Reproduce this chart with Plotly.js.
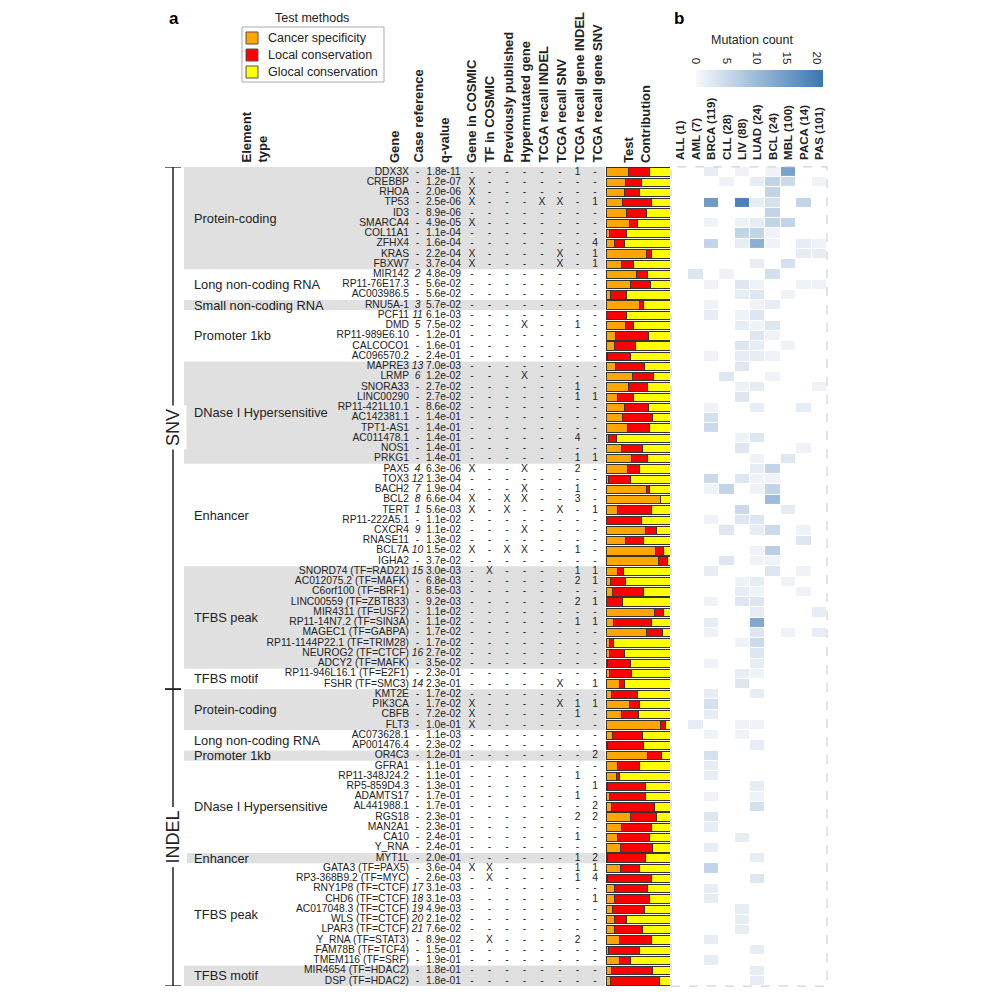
<!DOCTYPE html>
<html><head><meta charset="utf-8">
<script src="https://cdn.plot.ly/plotly-3.0.1.min.js"></script>
<style>body{margin:0;background:#fff}#chart{width:1000px;height:1000px}</style>
</head><body><div id="chart"></div>
<script>
// ---------------- DATA ----------------
const methods = ['Cancer specificity', 'Local conservation', 'Glocal conservation'];
const cancerTypes = ['ALL (1)','AML (7)','BRCA (119)','CLL (28)','LIV (88)','LUAD (24)','BCL (24)','MBL (100)','PACA (14)','PAS (101)'];
const mutationClasses = ['SNV', 'INDEL'];
const mutationClassSizes = [51, 29];
const groupNames = ['Protein-coding','Long non-coding RNA','Small non-coding RNA','Promoter 1kb','DNase I Hypersensitive','Enhancer','TFBS peak','TFBS motif',
                    'Protein-coding','Long non-coding RNA','Promoter 1kb','DNase I Hypersensitive','Enhancer','TFBS peak','TFBS motif'];
const groupSizes = [10,3,1,5,10,10,10,2, 4,2,1,9,1,10,2];
const columnHeaders = ['Gene in COSMIC','TF in COSMIC','Previously published','Hypermutated gene','TCGA recall INDEL','TCGA recall SNV','TCGA recall gene INDEL','TCGA recall gene SNV'];
const colorbarTicks = [0, 5, 10, 15, 20];

const genes = [
 'DDX3X','CREBBP','RHOA','TP53','ID3','SMARCA4','COL11A1','ZFHX4','KRAS','FBXW7',
 'MIR142','RP11-76E17.3','AC003986.5','RNU5A-1','PCF11','DMD','RP11-989E6.10','CALCOCO1','AC096570.2','MAPRE3',
 'LRMP','SNORA33','LINC00290','RP11-421L10.1','AC142381.1','TPT1-AS1','AC011478.1','NOS1','PRKG1','PAX5',
 'TOX3','BACH2','BCL2','TERT','RP11-222A5.1','CXCR4','RNASE11','BCL7A','IGHA2','SNORD74 (TF=RAD21)',
 'AC012075.2 (TF=MAFK)','C6orf100 (TF=BRF1)','LINC00559 (TF=ZBTB33)','MIR4311 (TF=USF2)','RP11-14N7.2 (TF=SIN3A)','MAGEC1 (TF=GABPA)','RP11-1144P22.1 (TF=TRIM28)','NEUROG2 (TF=CTCF)','ADCY2 (TF=MAFK)','RP11-946L16.1 (TF=E2F1)',
 'FSHR (TF=SMC3)','KMT2E','PIK3CA','CBFB','FLT3','AC073628.1','AP001476.4','OR4C3','GFRA1','RP11-348J24.2',
 'RP5-859D4.3','ADAMTS17','AL441988.1','RGS18','MAN2A1','CA10','Y_RNA','MYT1L','GATA3 (TF=PAX5)','RP3-368B9.2 (TF=MYC)',
 'RNY1P8 (TF=CTCF)','CHD6 (TF=CTCF)','AC017048.3 (TF=CTCF)','WLS (TF=CTCF)','LPAR3 (TF=CTCF)','Y_RNA (TF=STAT3)','FAM78B (TF=TCF4)','TMEM116 (TF=SRF)','MIR4654 (TF=HDAC2)','DSP (TF=HDAC2)'
];
const caseRef = [
 '-','-','-','-','-','-','-','-','-','-',
 '2','-','-','3','11','5','-','-','-','13',
 '6','-','-','-','-','-','-','-','-','4',
 '12','7','8','1','-','9','-','10','-','15',
 '-','-','-','-','-','-','-','16','-','-',
 '14','-','-','-','-','-','-','-','-','-',
 '-','-','-','-','-','-','-','-','-','-',
 '17','18','19','20','21','-','-','-','-','-'
];
const qValues = [
 '1.8e-11','1.2e-07','2.0e-06','2.5e-06','8.9e-06','4.9e-05','1.1e-04','1.6e-04','2.2e-04','3.7e-04',
 '4.8e-09','5.6e-02','5.6e-02','5.7e-02','6.1e-03','7.5e-02','1.2e-01','1.6e-01','2.4e-01','7.0e-03',
 '1.2e-02','2.7e-02','2.7e-02','8.6e-02','1.4e-01','1.4e-01','1.4e-01','1.4e-01','1.4e-01','6.3e-06',
 '1.3e-04','1.9e-04','6.6e-04','5.6e-03','1.1e-02','1.1e-02','1.3e-02','1.5e-02','3.7e-02','3.0e-03',
 '6.8e-03','8.5e-03','9.2e-03','1.1e-02','1.1e-02','1.7e-02','1.7e-02','2.7e-02','3.5e-02','2.3e-01',
 '2.3e-01','1.7e-02','1.7e-02','7.2e-02','1.0e-01','1.1e-03','2.3e-02','1.2e-01','1.1e-01','1.1e-01',
 '1.3e-01','1.7e-01','1.7e-01','2.3e-01','2.3e-01','2.4e-01','2.4e-01','2.0e-01','3.6e-04','2.6e-03',
 '3.1e-03','3.1e-03','4.9e-03','2.1e-02','7.6e-02','8.9e-02','1.5e-01','1.9e-01','1.8e-01','1.8e-01'
];
// flag columns, 10 rows per block
const geneInCosmic    = ('-XXX-X--XX'+'----------'+'---------X'+'--XX---X--'+'----------'+'--XXX-----'+'--------X-'+'----------').split('');
const tfInCosmic      = ('----------'+'----------'+'----------'+'---------X'+'----------'+'----------'+'--------XX'+'-----X----').split('');
const prevPublished   = ('----------'+'----------'+'----------'+'--XX---X--'+'----------'+'----------'+'----------'+'----------').split('');
const hypermutated    = ('----------'+'-----X----'+'X--------X'+'-XX--X-X--'+'----------'+'----------'+'----------'+'----------').split('');
const recallIndel     = ('---X------'+'----------'+'----------'+'----------'+'----------'+'----------'+'----------'+'----------').split('');
const recallSnv       = ('---X----XX'+'----------'+'----------'+'---X------'+'----------'+'X-X-------'+'----------'+'----------').split('');
const recallGeneIndel = ('1---------'+'-----1----'+'-11---4-12'+'-13----1-1'+'2-2-1-----'+'--11-----1'+'-1-2-1-111'+'-----2----').split('');
const recallGeneSnv   = ('---1---411'+'----------'+'--1-----1-'+'---1-----1'+'1-1-1-----'+'1-1----2--'+'1-22---214'+'-1--------').split('');

const cancerSpecificity = [
 .35,.31,.29,.255,.32,.365,.05,.14,.635,.235,
 .47,.385,.07,.53,.005,.31,.145,.13,.03,.145,
 .415,.355,.175,.29,.25,.335,.04,.24,.40,.34,
 .035,.635,.845,.175,.015,.615,.30,.77,.82,.175,
 .07,.10,.01,.75,.115,.635,.05,.06,.02,.05,
 .205,.09,.365,.235,.845,.095,.03,.645,.18,.165,
 .02,.05,.09,.39,.235,.18,.23,.02,.23,.025,
 .13,.13,.10,.13,.14,.205,.04,.205,.09,.07
];
const localConservation = [
 .33,.245,.24,.46,.31,.13,.27,.155,.08,.19,
 .18,.31,.25,.05,.31,.115,.515,.335,.355,.45,
 .325,.295,.25,.37,.475,.345,.125,.335,.245,.19,
 .35,.05,.01,.535,.54,.175,.28,.125,.135,.105,
 .235,.485,.245,.155,.59,.245,.065,.225,.365,.35,
 .08,.405,.165,.27,.09,.475,.555,.215,.34,.05,
 .60,.56,.675,.40,.47,.505,.495,.60,.29,.69,
 .52,.545,.50,.19,.43,.50,.48,.185,.64,.77
];
const glocalConservation = [
 .32,.445,.47,.285,.37,.505,.68,.705,.285,.575,
 .35,.305,.68,.42,.685,.575,.34,.535,.615,.405,
 .26,.35,.575,.34,.275,.32,.835,.425,.355,.47,
 .615,.315,.145,.29,.445,.21,.42,.105,.045,.72,
 .695,.415,.745,.095,.295,.12,.885,.715,.615,.60,
 .715,.505,.47,.495,.065,.43,.415,.14,.48,.785,
 .38,.39,.235,.21,.295,.315,.275,.38,.48,.285,
 .35,.325,.40,.68,.43,.295,.48,.61,.27,.16
];
// columns: ALL, AML, BRCA, CLL, LIV, LUAD, BCL, MBL, PACA, PAS
const mutationCounts = [
 [0,0,2,0,1,0,1,14,0,0],[0,0,0,1,0,2,6,5,0,1],[0,0,0,0,0,0,6,0,0,0],[0,0,15,0,19,2,4,0,6,0],[0,0,0,0,0,0,6,0,0,0],
 [0,0,1,0,1,2,6,6,0,0],[0,0,0,0,6,6,1,0,0,0],[0,0,6,0,2,12,1,0,2,1],[0,0,0,0,0,0,0,0,2,2],[0,0,0,0,0,2,0,4,0,0],
 [0,3,0,1,0,0,4,0,0,0],[0,0,1,0,3,1,0,0,1,1],[0,0,0,0,2,3,0,1,0,0],[0,0,1,0,0,1,2,0,0,0],[0,0,2,0,1,3,0,0,0,0],
 [0,0,0,0,2,1,3,0,0,0],[0,0,0,0,0,3,1,0,0,0],[0,0,0,0,3,2,0,1,0,0],[0,0,1,0,2,2,1,0,0,0],[0,0,0,0,3,0,0,0,0,0],
 [0,0,0,3,0,0,1,0,0,0],[0,0,0,0,1,2,0,0,0,1],[0,0,0,0,3,0,0,0,0,0],[0,0,1,0,0,2,0,0,2,0],[0,0,4,0,0,0,0,0,0,0],
 [0,0,5,0,0,0,0,0,0,0],[0,0,0,0,1,3,0,0,0,0],[0,0,0,0,3,0,0,0,1,0],[0,0,0,0,0,1,0,3,0,0],[0,0,0,0,0,2,6,0,0,0],
 [0,0,5,0,3,1,1,0,0,0],[0,0,1,6,0,1,6,0,0,0],[0,0,0,0,0,0,10,0,0,0],[0,0,0,0,5,0,0,2,0,0],[0,0,1,0,3,3,0,0,0,0],
 [0,0,0,3,0,2,5,0,1,0],[0,0,0,0,0,0,0,0,3,0],[0,0,0,0,0,1,7,0,0,0],[0,0,0,3,0,1,1,0,0,0],[0,0,2,0,0,0,3,0,1,0],
 [0,0,0,0,1,2,0,1,0,0],[0,0,0,0,2,1,0,0,1,0],[0,0,1,0,3,3,0,0,0,0],[0,0,0,0,0,2,0,0,0,2],[0,0,2,0,0,13,0,0,0,0],
 [0,0,1,0,0,3,0,1,0,2],[0,0,0,0,1,5,0,0,0,0],[0,0,0,0,0,3,0,0,0,0],[0,0,1,0,0,2,0,0,0,0],[0,0,0,0,2,1,0,0,0,0],
 [0,0,0,0,3,0,0,0,0,0],[0,0,2,0,0,2,0,0,0,0],[0,0,4,0,0,0,0,0,0,0],[0,0,2,0,0,0,0,0,0,0],[0,2,0,0,1,1,0,0,0,0],
 [0,0,1,0,1,0,0,0,0,0],[0,0,0,0,0,2,0,0,0,0],[0,0,4,0,0,0,0,0,0,0],[0,0,2,0,0,0,0,0,0,0],[0,0,2,0,0,0,0,0,0,0],
 [0,0,0,0,0,2,0,0,0,0],[0,0,1,0,0,1,0,0,0,0],[0,0,0,0,0,4,0,0,0,0],[0,0,3,0,0,0,0,0,0,0],[0,0,2,0,0,0,0,0,0,0],
 [0,0,0,0,2,0,0,0,0,0],[0,0,2,0,0,0,0,0,0,0],[0,0,0,0,0,2,0,0,0,0],[0,0,6,0,0,0,0,0,0,0],[0,0,0,0,0,3,0,0,0,0],
 [0,0,2,0,0,0,0,0,0,0],[0,0,2,0,0,0,0,0,0,0],[0,0,0,0,2,0,0,0,0,0],[0,0,0,0,2,0,0,0,0,0],[0,0,0,0,2,0,0,0,0,0],
 [0,0,2,0,0,0,0,0,0,0],[0,0,0,0,0,2,0,0,0,0],[0,0,2,0,0,0,0,0,0,0],[0,0,0,0,0,2,0,0,0,0],[0,0,0,0,0,2,0,0,0,0]
];

// ---------------- STYLE / LAYOUT ----------------
const FONT = 'Liberation Sans, Arial, sans-serif';
const TXT = '#222';
const methodColors = ['#FFA500', '#FF0000', '#FFFF00'];
const px = v => v / 1000;          // horizontal pixel -> paper
const py = v => 1 - v / 1000;      // vertical pixel -> paper
const rowTopPx = 166.9, rowBotPx = 986.1;
const nRows = genes.length;
const rowIdx = genes.map((g, i) => i);

const flagCols = [geneInCosmic, tfInCosmic, prevPublished, hypermutated, recallIndel, recallSnv, recallGeneIndel, recallGeneSnv];
const flagX = [472, 489.5, 507, 524.5, 542, 560, 577.5, 595];
const headerX = [471, 489, 508, 525, 543, 561.5, 579, 597];

function textTrace(xpos, texts, pos, size) {
  return {type:'scatter', mode:'text', xaxis:'x2', yaxis:'y', x: texts.map(() => xpos), y: rowIdx,
          text: texts, textposition: pos, cliponaxis:false, hoverinfo:'skip', showlegend:false,
          textfont:{family:FONT, size:size || 10.3, color:TXT}};
}

const traces = [];
// stacked bars
[cancerSpecificity, localConservation, glocalConservation].forEach((vals, k) => {
  traces.push({type:'bar', orientation:'h', x: vals, y: rowIdx, name: methods[k], xaxis:'x', yaxis:'y',
               marker:{color: methodColors[k], line:{color:'#333', width:1}}, hoverinfo:'skip', showlegend:false});
});
// table text
traces.push(textTrace(409, genes, 'middle left'));
traces.push(textTrace(417.5, caseRef.map(v => v === '-' ? '-' : '<i>' + v + '</i>'), 'middle center'));
traces.push(textTrace(443.5, qValues, 'middle center'));
flagCols.forEach((col, k) => traces.push(textTrace(flagX[k], col, 'middle center')));
// heatmap
traces.push({type:'heatmap', xaxis:'x3', yaxis:'y', x: cancerTypes, y: rowIdx,
  z: mutationCounts.map(r => r.map(v => v === 0 ? null : v)),
  zmin:0, zmax:21, xgap:1, ygap:1, hoverongaps:false,
  colorscale:[[0,'#f8f9fc'],[1,'#3a76b2']],
  colorbar:{orientation:'h', x:px(696), xanchor:'left', y:py(87), yanchor:'bottom', len:127, lenmode:'pixels',
            thickness:17, xpad:0, ypad:0, outlinewidth:0, showticklabels:false, ticks:''}
});
// empty trace that carries the colour-bar tick axis
traces.push({type:'scatter', mode:'markers', x:[], y:[], xaxis:'x4', yaxis:'y4', hoverinfo:'skip', showlegend:false});

const shapes = [];
const annotations = [];
// group bands and element type labels
let start = 0;
groupSizes.forEach((n, g) => {
  if (g % 2 === 0) {
    shapes.push({type:'rect', layer:'below', xref:'paper', yref:'y', x0:px(184), x1:px(605),
                 y0:start - 0.5, y1:start + n - 0.5, fillcolor:'#e0e0e0', line:{width:0}});
  }
  annotations.push({xref:'paper', yref:'y', x:px(192), y:start + (n - 1) / 2, xanchor:'left', yanchor:'middle',
                    text: groupNames[g], showarrow:false, font:{family:FONT, size:12.8, color:TXT}});
  start += n;
});
// SNV / INDEL brackets
start = 0;
mutationClassSizes.forEach((n, k) => {
  shapes.push({type:'line', xref:'paper', yref:'y', x0:px(173), x1:px(173), y0:start - 0.5, y1:start + n - 0.5, line:{color:'#222', width:1.5}});
  shapes.push({type:'line', xref:'paper', yref:'y', x0:px(165), x1:px(181), y0:start - 0.5, y1:start - 0.5, line:{color:'#222', width:1.5}});
  shapes.push({type:'line', xref:'paper', yref:'y', x0:px(165), x1:px(181), y0:start + n - 0.5, y1:start + n - 0.5, line:{color:'#222', width:1.5}});
  annotations.push({xref:'paper', yref:'y', x:px(173), y:start + (n - 1) / 2, xanchor:'center', yanchor:'middle',
                    textangle:-90, text: mutationClasses[k],
                    showarrow:false, bgcolor:'#fff', borderpad:3, font:{family:FONT, size:18, color:TXT}});
  start += n;
});
// heatmap frame (dashed)
shapes.push({type:'rect', xref:'paper', yref:'paper', x0:px(671), x1:px(827), y0:py(rowBotPx), y1:py(rowTopPx),
             line:{color:'#c8c8c8', width:1, dash:'dash'}});
// legend box
shapes.push({type:'rect', xref:'paper', yref:'paper', x0:px(242), x1:px(384), y0:py(82), y1:py(27), line:{color:'#aaa', width:1}});
methods.forEach((m, k) => {
  const cy = 38 + k * 17;
  shapes.push({type:'rect', xref:'paper', yref:'paper', x0:px(246), x1:px(258), y0:py(cy + 6), y1:py(cy - 6),
               fillcolor: methodColors[k], line:{color:'#555', width:1}});
  annotations.push({xref:'paper', yref:'paper', x:px(266), y:py(cy), xanchor:'left', yanchor:'middle', text:m,
                    showarrow:false, font:{family:FONT, size:12.5, color:TXT}});
});
annotations.push({xref:'paper', yref:'paper', x:px(312), y:py(18), xanchor:'center', yanchor:'middle', text:'Test methods',
                  showarrow:false, font:{family:FONT, size:12.5, color:TXT}});
// panel letters
annotations.push({xref:'paper', yref:'paper', x:px(174), y:py(18), xanchor:'center', yanchor:'middle', text:'a', showarrow:false, font:{family:FONT, size:17, color:'#000', weight:'bold'}});
annotations.push({xref:'paper', yref:'paper', x:px(679), y:py(18), xanchor:'center', yanchor:'middle', text:'b', showarrow:false, font:{family:FONT, size:17, color:'#000', weight:'bold'}});
// column headers
const hdrFont = {family:FONT, size:13, color:TXT, weight:'bold'};
function header(x, text) {
  annotations.push({xref:'paper', yref:'paper', x:px(x), y:py(164), xanchor:'center', yanchor:'bottom', textangle:-90,
                    text, align:'left', showarrow:false, borderpad:0, font:hdrFont});
}
header(254, 'Element<br>type');
header(394.5, 'Gene');
header(418, 'Case reference');
header(444, 'q-value');
columnHeaders.forEach((h, k) => header(headerX[k], h));
header(637, 'Test<br>Contribution');
// colorbar title
annotations.push({xref:'paper', yref:'paper', x:px(752), y:py(40), xanchor:'center', yanchor:'middle', text:'Mutation count', showarrow:false,
                  font:{family:FONT, size:12.5, color:TXT}});

const layout = {
  width:1000, height:1000, margin:{l:0, r:0, t:0, b:0},
  paper_bgcolor:'#fff', plot_bgcolor:'rgba(0,0,0,0)', showlegend:false,
  barmode:'stack', bargap:0.19,
  font:{family:FONT, color:TXT},
  yaxis:{domain:[py(rowBotPx), py(rowTopPx)], range:[nRows - 0.5, -0.5], visible:false, fixedrange:true},
  xaxis:{domain:[px(606), px(670)], range:[0, 1], visible:false, anchor:'y'},
  xaxis2:{domain:[0, 1], range:[0, 1000], visible:false, anchor:'y'},
  xaxis3:{domain:[px(673), px(827)], anchor:'y', side:'top', type:'category', tickangle:-90, ticks:'',
          showgrid:false, showline:false, zeroline:false, ticklabelstandoff:6,
          tickfont:{family:FONT, size:11.5, color:TXT, weight:'bold'}},
  xaxis4:{domain:[px(696), px(823)], range:[0, 21], anchor:'y4', side:'top',
          tickvals:colorbarTicks, tickangle:90, ticks:'', showgrid:false, showline:false, zeroline:false,
          ticklabelstandoff:3, tickfont:{family:FONT, size:11.5, color:TXT}},
  yaxis4:{domain:[py(87), py(70)], range:[0, 1], anchor:'x4', visible:false},
  shapes, annotations
};

Plotly.newPlot('chart', traces, layout, {displayModeBar:false, staticPlot:true});
</script>
</body></html>
